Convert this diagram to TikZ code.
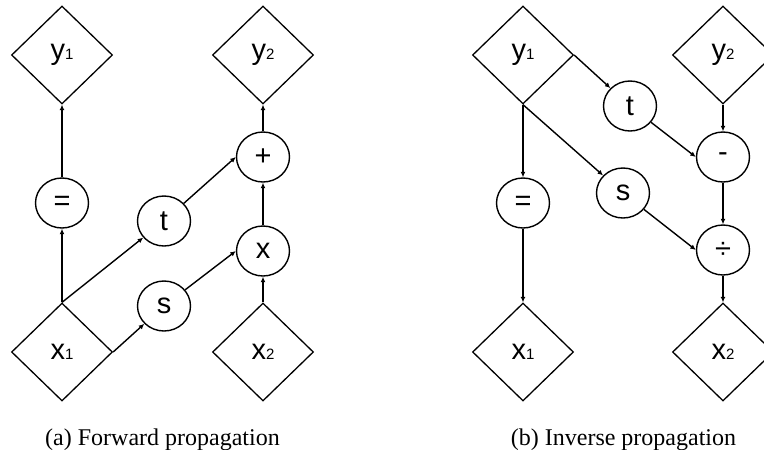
\documentclass[tikz,border=0pt]{standalone}
\usepackage{fontspec}
\setmainfont{Liberation Sans}
\newfontfamily\capfont{Liberation Serif}
\usetikzlibrary{shapes.geometric,arrows.meta}

% variable label: large letter with a small digit on the baseline, set a little low
\newcommand\vlab[2]{\raisebox{-3pt}{{\fontsize{29}{29}\selectfont #1}{\fontsize{15}{15}\selectfont #2}}}

\begin{document}
\begin{tikzpicture}[x=1pt,y=-1pt,
  every node/.style={font=\fontsize{29}{29}\selectfont},
  var/.style={draw,line width=1.3pt,diamond,minimum width=101pt,minimum height=98pt,inner sep=0pt},
  op/.style={draw,line width=1.4pt,ellipse,minimum width=53pt,minimum height=50pt,inner sep=0pt},
  flow/.style={line width=1.4pt,-{Latex[length=5.5pt,width=5pt]}},
  caption/.style={font=\capfont\fontsize{24}{24}\selectfont,anchor=base}]
\clip (0,0) rectangle (764,450);

% ---------- (a) forward propagation ----------
\node[var] (ay1) at (62,55)  {\vlab{y}{1}};
\node[var] (ay2) at (263,55) {\vlab{y}{2}};
\node[var] (ax1) at (62,352) {\vlab{x}{1}};
\node[var] (ax2) at (263,352) {\vlab{x}{2}};
\node[op] (aeq) at (62,203) {=};
\node[op] (at) at (164,221) {t};
\node[op] (as) at (164,306) {s};
\node[op] (aplus) at (263,157) {+};
\node[op] (atimes) at (263,251) {x};

\draw[flow] (ax1.north) -- (aeq);
\draw[flow] (aeq) -- (ay1.south);
\draw[flow] (ax1.north) -- (at);
\draw[flow] (ax1.east) -- (as);
\draw[flow] (at) -- (aplus.west);
\draw[flow] (as) -- (atimes.west);
\draw[flow] (ax2.north) -- (atimes);
\draw[flow] (atimes) -- (aplus);
\draw[flow] (aplus) -- (ay2.south);

\node[caption] (capa) at (162.5,445) {(a) Forward propagation};

% ---------- (b) inverse propagation ----------
\node[var] (by1) at (523,55)  {\vlab{y}{1}};
\node[var] (by2) at (723,55)  {\vlab{y}{2}};
\node[var] (bx1) at (523,352) {\vlab{x}{1}};
\node[var] (bx2) at (723,352) {\vlab{x}{2}};
\node[op] (beq) at (523,203) {=};
\node[op] (bt) at (630,106) {t};
\node[op] (bs) at (623,193) {s};
\node[op] (bminus) at (723,157) {-};
\node[op] (bdiv) at (723,250) {÷};

\draw[flow] (by1.south) -- (beq);
\draw[flow] (beq) -- (bx1.north);
\draw[flow] (by1.east) -- (bt);
\draw[flow] (by1.south) -- (bs);
\draw[flow] (bt) -- (bminus.west);
\draw[flow] (bs) -- (bdiv.west);
\draw[flow] (by2.south) -- (bminus);
\draw[flow] (bminus) -- (bdiv);
\draw[flow] (bdiv) -- (bx2.north);

\node[caption] (capb) at (623.5,445) {(b) Inverse propagation};
\end{tikzpicture}
\end{document}
